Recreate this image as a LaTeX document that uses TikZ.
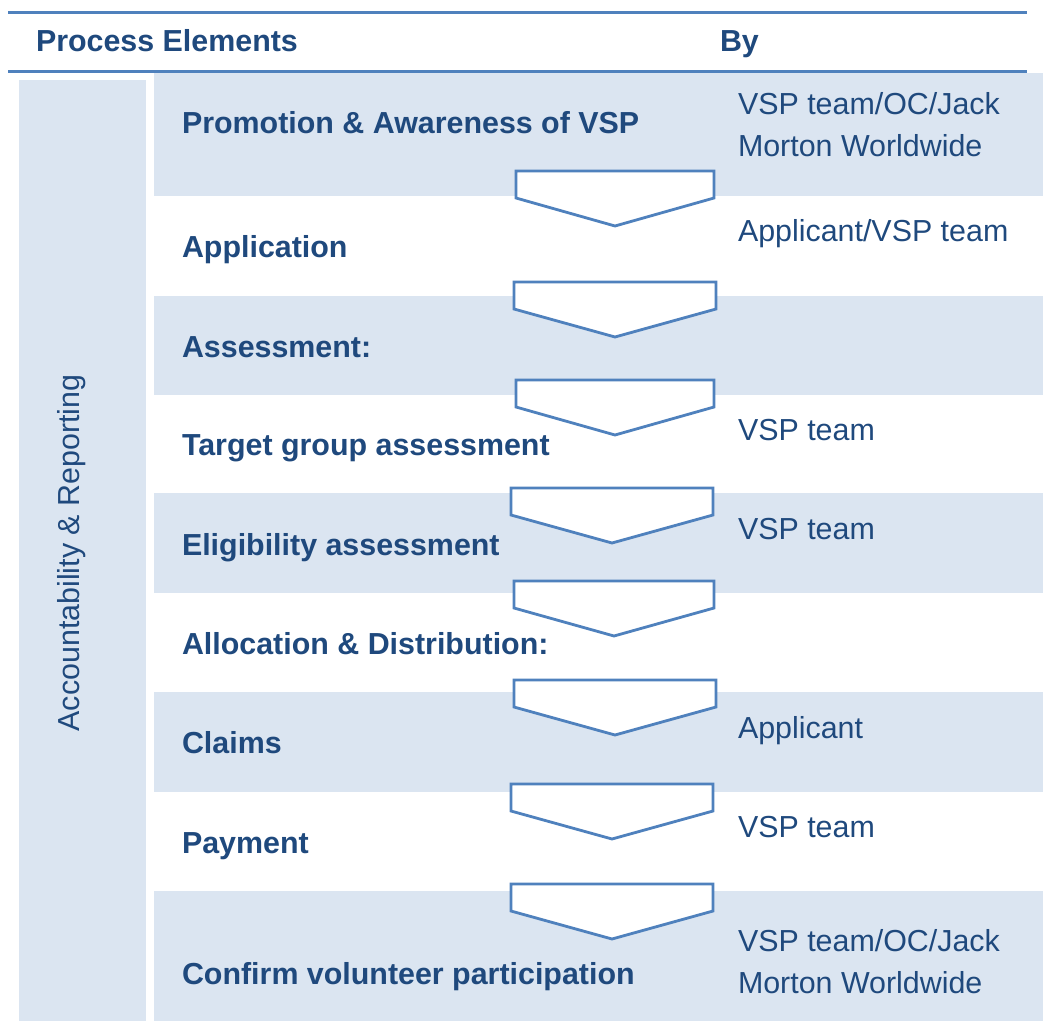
\documentclass[tikz,border=0pt]{standalone}
\usepackage{fontspec}
\setmainfont{Liberation Sans}
\definecolor{rule}{HTML}{4F81BD}
\definecolor{band}{HTML}{DBE5F1}
\definecolor{ink}{HTML}{1F497D}
\begin{document}
\begin{tikzpicture}[x=1pt,y=-1pt,
  every node/.style={inner sep=0pt,outer sep=0pt,font=\fontsize{30.4}{42}\selectfont,text=ink},
  elem/.style={anchor=base west,font=\fontsize{30.4}{42}\selectfont\bfseries},
  who/.style={anchor=base west,align=left},
  chev/.style={draw=rule,fill=white,line width=2.8pt,line join=miter}]
\useasboundingbox (0,0) rectangle (1043,1021);
% header rules
\draw[rule,line width=3pt] (8,12) -- (1027,12);
\draw[rule,line width=3pt] (8,71) -- (1027,71);
\node[elem] (hpe) at (36,51) {Process Elements};
\node[elem] (hby) at (720,51) {By};
% left box
\fill[band] (19,80) rectangle (146,1021);
\node[anchor=base,rotate=90] (acc) at (79,553) {Accountability \& Reporting};
% bands
\foreach \a/\b in {73/196,296/395,493/593,692/792,891/1021}
  \fill[band] (154,\a) rectangle (1043,\b);
% chevrons
\foreach \l/\r/\t in {516/714/171,514/716/282,516/714/380,511/713/488,514/714/581,514/716/680,511/713/784,511/713/884}
  \draw[chev] (\l,\t) -- (\r,\t) -- (\r,\t+27) -- ({(\l+\r)/2},\t+55) -- (\l,\t+27) -- cycle;
% process elements
\node[elem] (e1) at (182,133) {Promotion \& Awareness of VSP};
\node[elem] (e2) at (182,257) {Application};
\node[elem] (e3) at (182,357) {Assessment:};
\node[elem] (e4) at (182,455) {Target group assessment};
\node[elem] (e5) at (182,555) {Eligibility assessment};
\node[elem] (e6) at (182,654) {Allocation \& Distribution:};
\node[elem] (e7) at (182,753) {Claims};
\node[elem] (e8) at (182,853) {Payment};
\node[elem] (e9) at (182,984) {Confirm volunteer participation};
% by
\node[who] (b1) at (738,114) {VSP team/OC/Jack};
\node[who] (b1b) at (738,156) {Morton Worldwide};
\node[who] (b2) at (738,241) {Applicant/VSP team};
\node[who] (b4) at (738,440) {VSP team};
\node[who] (b5) at (738,539) {VSP team};
\node[who] (b7) at (738,738) {Applicant};
\node[who] (b8) at (738,837) {VSP team};
\node[who] (b9) at (738,951) {VSP team/OC/Jack};
\node[who] (b9b) at (738,993) {Morton Worldwide};
\end{tikzpicture}
\end{document}
